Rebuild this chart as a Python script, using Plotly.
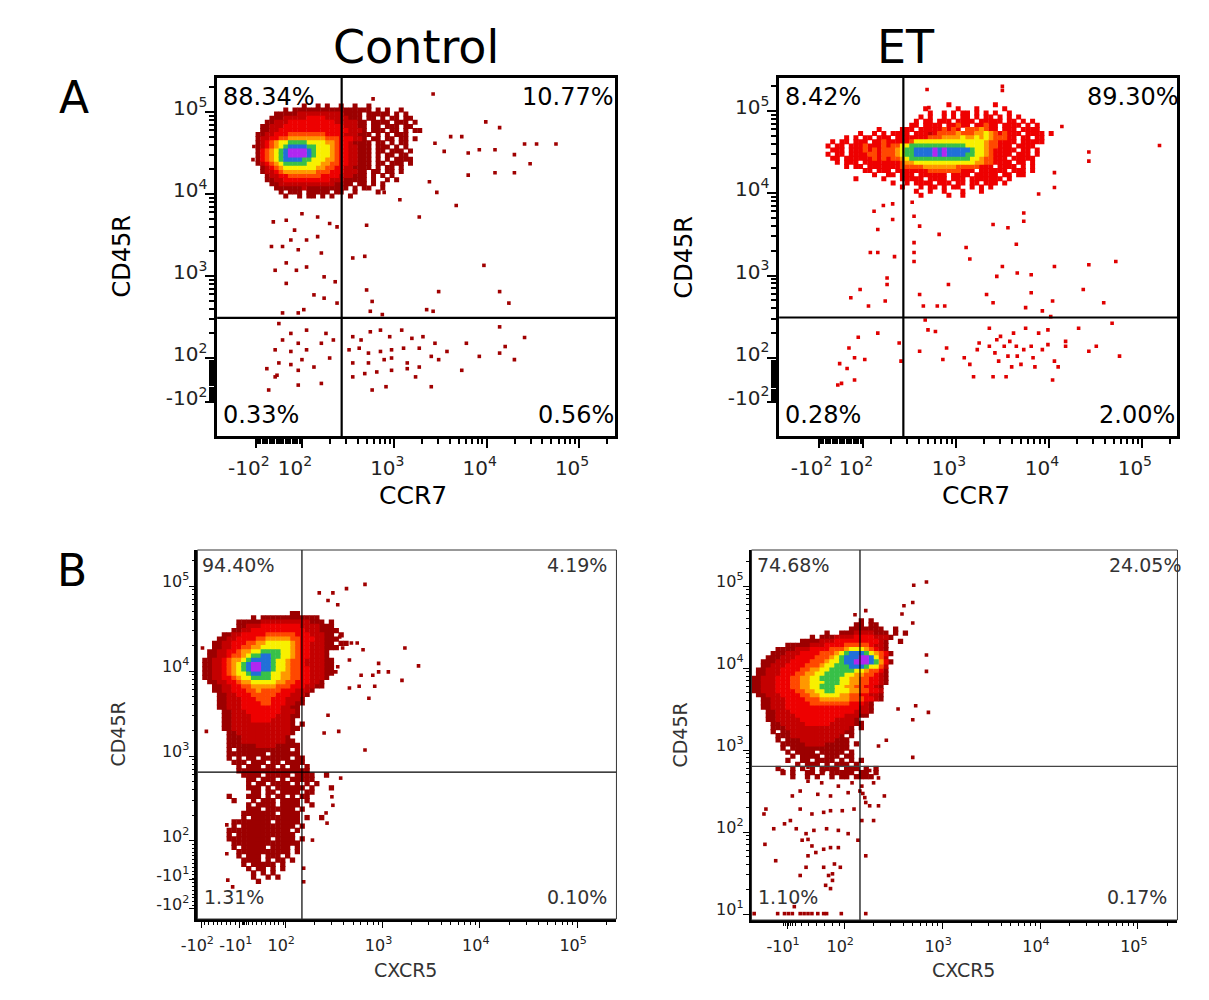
import numpy as np
import plotly.graph_objects as go

# ---- data (display units: 2 = 10^2, 3 = 10^3 ...) ----
BIN = 0.05
LEVEL_COLORS = ['#ffffff', '#9c0000', '#c40000', '#ee0000', '#ff4800',
                '#ff9800', '#f8f000', '#38c048', '#2070d8', '#b028f0']

# A / Control : CCR7 vs CD45R, binned density, top-left corner of bin grid
ctrl_a_x0, ctrl_a_y0 = 1.50, 5.10
ctrl_a_density = [
    "..........1..1.1..1..1..1............",
    "......1.11111111111111111.1.1..1.....",
    "....1111122222222221111.11111.1.1....",
    "...11122222333322222111.11.1.11.11...",
    "..1122233333333332222211.1111.111.1.",
    ".11222333333333333322211.11.111.11..",
    ".11223333333333333332221.111.11.1.11",
    "1122333444444443333222111.1.1.111..",
    "122334455555555444333221.11.11.11.1",
    "1234566777766665543321111.11.1.11",
    "1234567888877666543322111.111.1.1",
    "1345678999987666543322111.11.111.1",
    "1345678999987666543322111.1.11.11",
    "1345678888776665543322111.1.1.1111..",
    "1234567777766655443322111.11.111.1.",
    ".123456666666554433221111.1.11.1...",
    ".12234555555544433322211.11.11.1....",
    "..1223344444443333222111.1.1.1.......",
    "..1122333333333322211111.1..1.1.....",
    "...112222222222221111.11.1.1........",
    "....1111112111111111.1.11..1........",
    ".....1.111.11111.11..1....1.........",
    "......1..1.11.1.1...1...............",
]
ctrl_a_dots = [
    (3.42, 5.22), (2.77, 5.16), (3.99, 4.88), (4.14, 4.81), (3.61, 4.70), (3.73, 4.70),
    (3.44, 4.62), (3.54, 4.52), (3.80, 4.50), (3.92, 4.54), (4.09, 4.54), (4.41, 4.61),
    (4.54, 4.61), (4.75, 4.61), (4.30, 4.48), (4.09, 4.26), (4.30, 4.26), (4.47, 4.37),
    (3.80, 4.23), (3.67, 3.86), (3.27, 3.72), (3.46, 4.02), (3.38, 4.15), (2.89, 4.02),
    (3.06, 3.93), (2.70, 3.62), (2.55, 3.22), (2.68, 3.24), (3.97, 3.13), (1.47, 4.42),
    (1.48, 4.58),
    (1.69, 3.66), (1.83, 3.68), (1.92, 3.56), (2.00, 3.76), (2.17, 3.72), (2.30, 3.64),
    (2.38, 3.60), (1.67, 3.36), (1.79, 3.36), (1.88, 3.44), (1.96, 3.32), (2.05, 3.44),
    (2.17, 3.48), (2.21, 3.28), (1.83, 3.16), (1.94, 3.07), (2.05, 3.11), (1.71, 3.07),
    (1.83, 2.91), (2.24, 2.99), (2.36, 2.93), (2.13, 2.77), (2.24, 2.73), (2.38, 2.67),
    (2.02, 2.59), (1.79, 2.55), (1.96, 2.55),
    (1.75, 2.42), (1.88, 2.30), (2.05, 2.34), (2.26, 2.30), (2.34, 2.22), (1.79, 2.22),
    (1.96, 2.18), (2.21, 2.18), (1.71, 2.10), (1.88, 2.08), (2.05, 2.10), (1.75, 1.94),
    (1.88, 1.92), (2.00, 1.98), (2.13, 1.89), (2.30, 2.00), (1.62, 1.87), (1.73, 1.79),
    (1.96, 1.85), (2.21, 1.69), (1.96, 1.67), (1.71, 1.77), (1.64, 1.61),
    (2.55, 2.26), (2.64, 2.22), (2.74, 2.32), (2.85, 2.34), (2.95, 2.26), (3.08, 2.34),
    (3.19, 2.24), (3.31, 2.26), (3.44, 2.18), (2.51, 2.10), (2.62, 2.12), (2.72, 2.06),
    (2.85, 2.08), (2.97, 2.10), (3.10, 2.12), (3.27, 2.12), (3.40, 2.02), (3.57, 2.08),
    (3.48, 1.98), (2.55, 1.94), (2.72, 1.94), (2.89, 1.98), (2.97, 2.00), (3.14, 1.94),
    (3.27, 1.89), (2.55, 1.77), (2.68, 1.81), (2.81, 1.83), (2.97, 1.85), (3.14, 1.87),
    (3.23, 1.77), (2.76, 1.61), (2.91, 1.65), (3.40, 1.65), (3.73, 1.85), (3.78, 2.18),
    (3.92, 2.02), (4.14, 2.06), (4.20, 2.14), (4.30, 1.98), (4.41, 2.25), (4.14, 2.38),
    (3.35, 2.59), (3.42, 2.57), (2.76, 2.69), (2.74, 2.57), (2.87, 2.53), (3.48, 2.81),
    (4.14, 2.81), (4.24, 2.67), (2.70, 2.83),
]

# A / ET
et_a_x0, et_a_y0 = 1.60, 5.10
et_a_density = [
    "..........................3.........3...........",
    ".....................3......3...3.....3.........",
    "......................3..3.3.33.3.3.3..3........",
    "....................3.3..3.3.33.3.33.3.3.3......",
    "...................3.33.333.3333.33333.33.3.3...",
    "..................33.3333.33433.33433.3333.3.3..",
    "...........3....333.333334343.4445433.333.3333..",
    ".......3..3.3.3333.33323444454445565434333.3333.3",
    "....3.3.33.333.33333334445555655656544433.33.33..",
    ".3.33.333.3343333346666666666666665443333.33333.",
    "3.33.33343334344667777777777776666544333.3333..",
    ".333.333434344456778888989888887665433333.33.3..",
    "3.33.33334434445677888898988887766543333.333.3..",
    ".33.33333343434456777777777777766544333.33333...",
    "..3.333.33333333455666666666666655443333.33.3...",
    "....3.33.333333344444555555544444333.3333.3.3...",
    "........33.333.33333334444444333.333333.333.3...",
    "..........3..33.333.333333.3333.33333.33.33.....",
    "......3.....3...33333.3333.333.3333333.3........",
    "..............3..3.3333.333.33.33.333.3.........",
    "................3...3.33.3.33..3.3.3............",
    "...................3..3..3...3...3..............",
    "....................3.....3..3..................",
]
et_a_dots = [
    (2.69, 5.26), (3.50, 5.30), (3.50, 5.25), (2.71, 5.04), (4.14, 4.81), (4.43, 4.50),
    (4.43, 4.39), (5.19, 4.58), (4.06, 4.25), (4.06, 4.07), (3.89, 3.99),
    (2.12, 3.78), (2.22, 3.85), (2.32, 3.87), (2.16, 3.56), (2.32, 3.68), (2.55, 3.72),
    (2.61, 3.60), (2.53, 3.89), (2.82, 3.50), (2.55, 3.40), (2.55, 3.28), (2.55, 3.17),
    (2.34, 3.23), (2.08, 3.28), (2.16, 3.28), (2.26, 2.97), (2.26, 2.89), (2.24, 2.69),
    (1.97, 2.83), (1.87, 2.73), (2.06, 2.63), (2.92, 2.89), (2.61, 2.77), (2.80, 2.63),
    (2.88, 2.63), (2.65, 2.63), (3.11, 3.34), (3.15, 3.20), (3.40, 3.62), (3.56, 3.58),
    (3.65, 3.38), (3.73, 3.76), (3.73, 3.66), (3.50, 3.11), (3.66, 3.03), (3.81, 3.01),
    (4.06, 3.11), (4.43, 3.13), (4.72, 3.17), (4.37, 2.83), (4.59, 2.67), (3.40, 2.67),
    (3.75, 2.61), (3.93, 2.57), (4.04, 2.69), (3.81, 2.79), (3.44, 2.99), (3.33, 2.77),
    (2.67, 2.46), (4.02, 2.50),
    (1.95, 2.25), (2.16, 2.30), (1.85, 2.12), (1.91, 2.00), (2.02, 1.98), (1.75, 1.93),
    (1.83, 1.87), (1.77, 1.69), (1.73, 1.67), (1.91, 1.73), (2.39, 2.18), (2.41, 1.96),
    (2.61, 2.08), (2.70, 2.34), (2.78, 2.32), (2.90, 2.12), (2.86, 1.98), (3.09, 2.00),
    (3.15, 1.92), (3.19, 1.77), (3.25, 2.18), (3.36, 2.36), (3.40, 1.77), (3.44, 2.22),
    (3.48, 2.26), (3.52, 2.14), (3.56, 2.02), (3.54, 1.77), (3.62, 2.30), (3.65, 2.14),
    (3.66, 2.02), (3.70, 1.92), (3.73, 2.10), (3.81, 2.14), (3.83, 2.00), (3.85, 1.89),
    (3.75, 2.36), (3.89, 2.30), (3.99, 2.34), (4.06, 1.96), (4.10, 1.89), (4.04, 1.73),
    (4.18, 2.20), (4.32, 2.36), (4.43, 2.08), (4.51, 2.14), (4.68, 2.42), (4.76, 2.02),
    (4.18, 2.14), (3.36, 2.14), (3.42, 2.06), (3.23, 2.10), (3.60, 1.89), (3.93, 2.10),
    (3.99, 2.16), (3.46, 1.96), (3.58, 2.20),
]

# B / Control : CXCR5 vs CD45R
ctrl_b_x0, ctrl_b_y0 = 1.15, 4.80
ctrl_b_density = [
    "",
    "",
    "..................11",
    "..........1.111111111111",
    ".......111112222222222111.1",
    ".......11222333333332222111",
    "......1122333333333332221111",
    "....11223333344444433322211.1",
    "...1122333344555554433322111",
    "..1122333445566666543322211.11",
    "..11223344556666665433222111",
    ".1122334556677776654332221",
    ".1122344567788776654332221",
    "112234556788887665443222211",
    "112234567899887665443222211",
    "112234567899887665443322211",
    "112234566788776655443322211",
    "11223345667777665544332221",
    ".112233455666665544333221",
    "..11223344555554443332211",
    "..112233344544443332221",
    "...1122333444443332221",
    "...112223334443332221",
    "...112223333443332211",
    "...11222333333332211",
    "....1122233333332221",
    "....1122223333322211",
    "....112222333322221",
    "....112222222222221.1",
    "....1122222222222211",
    ".....11222222222221",
    ".....1112222222221",
    ".....11122222222211",
    ".....111111222211111",
    ".....1.11111111111.1",
    ".....11111111.111111",
    ".....1.1.11.111111.11",
    "......111.111.11.1111",
    ".......1.111.11.1.11.1",
    ".......111111111111111",
    "........1111.11111.1111..1",
    ".........11.111.1.11111",
    ".........1.11.1111.1.1.1",
    ".........111.1.111111.1...1",
    "..........11.11.1111.11",
    ".....1...111.1.11.1.11",
    "......1...1.111.1111.1",
    ".........1.1111.1111..1",
    ".........111.111111.1",
    "........1111111.1111",
    "........1.1111111111.1..1",
    "......11111111.11111",
    "......1.11111111111.1",
    ".....1111111111111.1",
    ".....1.111111111111",
    ".....111111111.1111.1",
    "......11111111111111",
    "......1.11111.1111.1",
    ".......11111111111.1",
    ".......1.111.111.1",
    "........1111.1.11.1",
    "........1.11111.1",
    ".........1.11.1.1",
    "..........1.1.1",
    "..........1..1.1",
    "...........1",
]
ctrl_b_dots = [
    (2.35, 4.92), (2.49, 4.92), (2.63, 4.97), (2.82, 5.02), (2.44, 4.83), (2.54, 4.78),
    (2.56, 4.40), (2.59, 4.27), (2.68, 4.33), (2.74, 4.33), (2.66, 4.13), (2.78, 3.95),
    (2.80, 4.25), (2.90, 3.95), (2.96, 4.09), (2.96, 3.99), (3.06, 3.99), (3.23, 4.27),
    (3.20, 3.89), (3.37, 4.06), (2.92, 3.82), (2.76, 3.82), (2.86, 3.68), (2.66, 3.80),
    (2.55, 3.29), (2.82, 3.07), (2.57, 2.74), (2.40, 3.27), (2.44, 3.48), (2.52, 3.99),
    (2.54, 4.05), (1.15, 4.27), (1.19, 3.29), (1.40, 2.19), (1.40, 1.85), (1.41, 1.54),
    (1.46, 1.46), (2.48, 2.52), (2.49, 2.42), (2.42, 2.33), (2.43, 2.21), (2.28, 2.01),
    (2.19, 1.68), (2.19, 1.52),
]

# B / ET
et_b_x0, et_b_y0 = 1.05, 4.75
et_b_density = [
    "",
    "",
    "",
    "......................1.1",
    ".....................11.11",
    "....................1111111..1",
    "...............1..1112222111.1.1",
    "............1.111222233332221",
    "..........111122233333333321..1",
    ".......111112223333444443221",
    ".....11112223333444566654321",
    "....1112223333444567888765431",
    "...1112223333444567888998642",
    "..111222333344456678899987531",
    "..11222333344456677788876642",
    ".112223333445566777776654431",
    ".112223334455667777665544321",
    "1122233344556677776655443321",
    "1122233344556667776655443321",
    "112223334455667776655443321",
    "112223333445566776665544332",
    ".11222333344556666554433221",
    "..1122233334445555554443321",
    "..11222333334444444433321",
    "..11222333333333333333221",
    "...1122233333333333332221",
    "...112222333333333322211",
    "...1122222333333322221",
    "....1122222333332222211",
    "....11122222222222221.1",
    "....1.112222222222211",
    ".....11122222222221.1",
    ".....1.1112222222111",
    "......11111222211111.1",
    "......1.111111111111",
    ".......1.1111.11111.1",
    "........1.1111.111.11",
    ".......1..11.1111.1.1.1",
    ".........1.111.1.111.1",
    ".....1..1.1.1.1111.111.1.1",
    "......1.1..11.1.11111.11.1",
    "........1..1.1..1.11.1111",
]
et_b_dots = [
    (2.71, 5.01), (2.84, 5.05), (2.70, 4.80), (2.61, 4.76), (2.59, 4.66), (2.70, 4.55),
    (2.22, 4.70), (2.11, 4.65), (2.84, 4.16), (2.84, 3.96), (2.73, 3.54), (2.86, 3.46),
    (2.70, 3.37), (2.70, 2.91), (2.55, 3.50), (2.43, 3.12), (2.35, 3.05),
    (1.37, 2.75), (1.47, 2.73), (1.63, 2.79), (1.79, 2.75), (1.90, 2.77), (2.02, 2.73),
    (2.14, 2.77), (2.26, 2.75), (2.35, 2.66), (1.63, 2.62), (1.77, 2.60), (1.94, 2.56),
    (2.08, 2.60), (2.18, 2.56), (2.30, 2.60), (2.41, 2.44), (1.47, 2.44), (1.55, 2.50),
    (1.73, 2.46), (1.86, 2.44), (2.04, 2.48), (2.16, 2.50), (2.22, 2.36), (2.26, 2.32),
    (2.19, 2.47), (2.21, 2.42), (2.35, 2.32), (2.30, 2.14), (2.18, 2.14), (2.10, 2.28),
    (1.98, 2.26), (1.86, 2.26), (1.79, 2.24), (1.67, 2.22), (1.55, 2.28), (1.45, 2.14),
    (1.20, 2.28), (1.18, 2.22), (1.28, 2.04), (1.39, 2.10), (1.51, 2.04), (1.61, 1.98),
    (1.69, 2.02), (1.82, 2.04), (1.94, 2.02), (2.04, 1.98), (2.14, 1.90), (1.57, 1.90),
    (1.63, 1.91), (1.67, 1.83), (1.71, 1.75), (1.79, 1.79), (1.86, 1.81), (1.94, 1.81),
    (2.22, 1.71), (1.19, 1.85), (1.30, 1.65), (1.63, 1.71), (1.61, 1.57), (1.90, 1.61),
    (1.96, 1.57), (1.79, 1.57), (1.55, 1.47), (1.84, 1.47), (1.88, 1.49), (1.81, 1.35),
    (1.88, 1.41), (1.86, 1.31), (1.49, 1.09),
    (1.08, 1.005), (1.32, 1.005), (1.39, 1.005), (1.43, 1.005), (1.47, 1.005),
    (1.55, 1.005), (1.59, 1.005), (1.63, 1.005), (1.67, 1.005), (1.73, 1.005),
    (1.79, 1.005), (1.82, 1.005), (1.97, 1.005), (2.22, 1.005),
]

quadrant_pct = {
    'ctrl_a': ['88.34%', '10.77%', '0.33%', '0.56%'],
    'et_a': ['8.42%', '89.30%', '0.28%', '2.00%'],
    'ctrl_b': ['94.40%', '4.19%', '1.31%', '0.10%'],
    'et_b': ['74.68%', '24.05%', '1.10%', '0.17%'],
}
gates = {'ctrl_a': (2.43, 2.49), 'et_a': (2.435, 2.49),
         'ctrl_b': (2.172, 2.81), 'et_b': (2.161, 2.80)}


def sup(t):
    return t.replace('^', '<sup>') + '</sup>'


A_tick_text = [sup('-10^2'), sup('10^2'), sup('10^3'), sup('10^4'), sup('10^5')]

W, H = 1209, 1000
FONT = 'DejaVu Sans'


def px(x, y):
    return x / W, 1 - y / H


def log_minor(d0, d1, top):
    out = []
    for n in range(d0, d1 + 1):
        for k in range(2, 10):
            v = n + np.log10(k)
            if v < top:
                out.append(v)
    return out


def density_trace(rows, x0, y0, size, xa, ya):
    cells = []
    for r, row in enumerate(rows):
        for c, ch in enumerate(row):
            if ch != '.':
                cells.append((int(ch), x0 + (c + 0.5) * BIN, y0 - (r + 0.5) * BIN))
    cells.sort()
    return go.Scatter(x=[c[1] for c in cells], y=[c[2] for c in cells], mode='markers',
                      marker=dict(symbol='square', size=size, color=[LEVEL_COLORS[c[0]] for c in cells],
                                  line=dict(width=0)),
                      xaxis=xa, yaxis=ya, hoverinfo='skip', showlegend=False)


def dots_trace(dots, color, size, xa, ya):
    return go.Scatter(x=[d[0] for d in dots], y=[d[1] for d in dots], mode='markers',
                      marker=dict(symbol='square', size=size, color=color, line=dict(width=0)),
                      xaxis=xa, yaxis=ya, hoverinfo='skip', showlegend=False)


fig = go.Figure()
fig.add_trace(dots_trace(ctrl_a_dots, '#a00000', 3.6, 'x', 'y'))
fig.add_trace(density_trace(ctrl_a_density, ctrl_a_x0, ctrl_a_y0, 5.0, 'x', 'y'))
fig.add_trace(dots_trace(et_a_dots, '#e00000', 3.6, 'x2', 'y2'))
fig.add_trace(density_trace(et_a_density, et_a_x0, et_a_y0, 5.0, 'x2', 'y2'))
fig.add_trace(dots_trace(ctrl_b_dots, '#a00000', 3.6, 'x3', 'y3'))
fig.add_trace(density_trace(ctrl_b_density, ctrl_b_x0, ctrl_b_y0, 5.3, 'x3', 'y3'))
fig.add_trace(dots_trace(et_b_dots, '#a00000', 3.6, 'x4', 'y4'))
fig.add_trace(density_trace(et_b_density, et_b_x0, et_b_y0, 5.3, 'x4', 'y4'))


def axis(domain, rng, tvals, ttext, minor, anchor, size, big, isx):
    d = dict(domain=domain, range=rng, anchor=anchor, tickmode='array', tickvals=tvals,
             ticktext=ttext, ticks='outside', showgrid=False, zeroline=False,
             tickcolor='black', fixedrange=True,
             tickfont=dict(family=FONT, size=size, color='#222'),
             minor=dict(tickvals=minor, ticks='outside', tickcolor='black',
                        ticklen=5 if big else 3, tickwidth=2 if big else 1, showgrid=False))
    if big:
        d.update(showline=True, linecolor='black', linewidth=2.6, mirror=True,
                 ticklen=9, tickwidth=2.2)
    else:
        d.update(showline=True, linecolor='black', linewidth=2.6, mirror=False,
                 ticklen=6, tickwidth=1)
    if isx:
        d.update(ticklabelstandoff=3 if big else 4, ticklabelshift=-7 if big else -4)
    else:
        d.update(ticklabelstandoff=-6 if big else -4, ticklabelshift=-4 if big else -5)
    return d


ax_lin = list(np.arange(1.525, 1.99, 0.025))
ay_lin = list(np.arange(1.49, 1.99, 0.025))
a_minor_x = log_minor(2, 5, 5.39) + ax_lin
a_minor_y = log_minor(2, 5, 5.40) + ay_lin

bx_lin = list(np.arange(1.17, 1.98, 0.045)) + [1.56, 1.58, 1.60, 1.62]
by_lin = list(np.arange(1.24, 1.98, 0.045))
b_minor_x = log_minor(2, 5, 5.40) + bx_lin
b_minor_y = log_minor(2, 5, 5.42) + by_lin
b2_minor_x = log_minor(2, 5, 5.40) + [1.38, 1.40, 1.43, 1.45, 1.47, 1.50, 1.56, 1.64, 1.72, 1.80, 1.88, 1.95]
b2_minor_y = log_minor(1, 5, 5.44)

B_x_text = [sup('-10^2'), sup('-10^1'), sup('10^2'), sup('10^3'), sup('10^4'), sup('10^5')]
B_y_text = [sup('-10^2'), sup('-10^1'), sup('10^2'), sup('10^3'), sup('10^4'), sup('10^5')]
B2_x_text = [sup('-10^1'), sup('10^2'), sup('10^3'), sup('10^4'), sup('10^5')]
B2_y_text = [sup('10^1'), sup('10^2'), sup('10^3'), sup('10^4'), sup('10^5')]

fig.update_layout(
    xaxis=axis([203 / W, 607 / W], [1.082, 5.394], [1.50, 2, 3, 4, 5], A_tick_text, a_minor_x, 'y', 20, True, True),
    yaxis=axis([0.564, 0.922], [1.049, 5.415], [1.463, 2, 3, 4, 5], A_tick_text, a_minor_y, 'x', 20, True, False),
    xaxis2=axis([773 / W, 1177 / W], [1.099, 5.383], [1.523, 2, 3, 4, 5], A_tick_text, a_minor_x, 'y2', 20, True, True),
    yaxis2=axis([0.564, 0.922], [1.05, 5.40], [1.465, 2, 3, 4, 5], A_tick_text, a_minor_y, 'x2', 20, True, False),
    xaxis3=axis([183 / W, 608 / W], [1.098, 5.404], [1.138, 1.534, 2, 3, 4, 5], B_x_text, b_minor_x, 'y3', 16, False, True),
    yaxis3=axis([0.081, 0.450], [1.082, 5.424], [1.2, 1.541, 2, 3, 4, 5], B_y_text, b_minor_y, 'x3', 16, False, False),
    xaxis4=axis([745 / W, 1177 / W], [1.053, 5.404], [1.416, 2, 3, 4, 5], B2_x_text, b2_minor_x, 'y4', 16, False, True),
    yaxis4=axis([0.080, 0.450], [0.927, 5.44], [1, 2, 3, 4, 5], B2_y_text, b2_minor_y, 'x4', 16, False, False),
)

shapes = []
for key, xr, yr, w, col in [('ctrl_a', 'x', 'y', 2.2, 'black'), ('et_a', 'x2', 'y2', 2.2, 'black'),
                            ('ctrl_b', 'x3', 'y3', 1.2, 'black'), ('et_b', 'x4', 'y4', 1.2, '#444')]:
    gx, gy = gates[key]
    shapes.append(dict(type='line', xref=xr, yref=yr + ' domain', x0=gx, x1=gx, y0=0, y1=1,
                       line=dict(color='black', width=w)))
    shapes.append(dict(type='line', xref=xr + ' domain', yref=yr, x0=0, x1=1, y0=gy, y1=gy,
                       line=dict(color=col, width=w)))
for xr, yr in [('x3', 'y3'), ('x4', 'y4')]:
    shapes.append(dict(type='rect', xref=xr + ' domain', yref=yr + ' domain', x0=0, x1=1, y0=0, y1=1,
                       line=dict(color='#333', width=1)))

ann = []


def text(x, y, s, size, anchor='center', color='black', angle=0):
    px_, py_ = px(x, y)
    ann.append(dict(x=px_, y=py_, xref='paper', yref='paper', text=s, showarrow=False,
                    xanchor=anchor, yanchor='middle', textangle=angle,
                    font=dict(family=FONT, size=size, color=color)))


text(405, 47, 'Control', 46)
text(902, 47, 'ET', 46)
text(58, 98, 'A', 44)
text(56, 570, 'B', 44)

text(106, 257, 'CD45R', 24, angle=-90)
text(677, 257, 'CD45R', 24, angle=-90)
text(402, 495, 'CCR7', 25)
text(973, 495, 'CCR7', 25)
text(102, 734, 'CD45R', 19, angle=-90, color='#333')
text(672, 735, 'CD45R', 19, angle=-90, color='#333')
text(394, 970, 'CXCR5', 19, color='#333')
text(960, 970, 'CXCR5', 19, color='#333')

pos = {
    'ctrl_a': [(207, 97), (608, 97), (207, 415), (608, 415)],
    'et_a': [(777, 97), (1181, 97), (777, 415), (1177, 415)],
    'ctrl_b': [(186, 565), (600, 565), (188, 897), (600, 897)],
    'et_b': [(749, 565), (1183, 565), (750, 897), (1168, 897)],
}
for key, pts in pos.items():
    big = key.endswith('_a')
    for i, (x, y) in enumerate(pts):
        text(x, y, quadrant_pct[key][i], 24 if big else 19,
             anchor='left' if i % 2 == 0 else 'right', color='black' if big else '#333')

fig.update_layout(width=W, height=H, margin=dict(l=0, r=0, t=0, b=0),
                  paper_bgcolor='white', plot_bgcolor='white',
                  shapes=shapes, annotations=ann, showlegend=False,
                  font=dict(family=FONT))

# the page's default body margin would push the figure 8px right and down
fig.write_html("out.html", config={'displayModeBar': False},
               post_script="document.body.style.margin='0px';")
